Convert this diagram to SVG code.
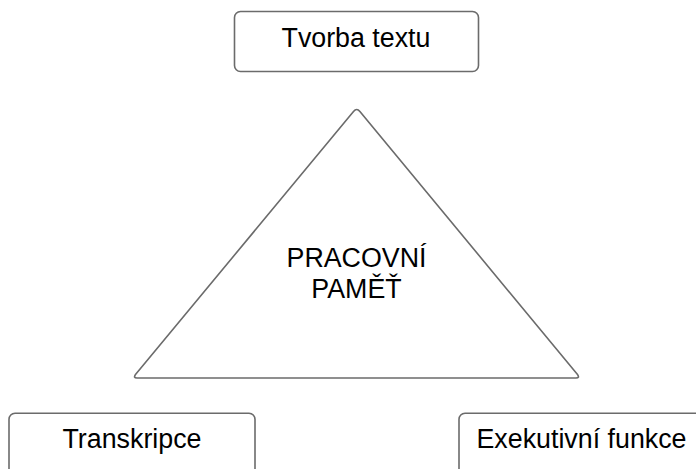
<svg xmlns="http://www.w3.org/2000/svg" width="696" height="469" viewBox="0 0 696 469">
  <style>
    .box { fill: #ffffff; stroke: #6b6b6b; stroke-width: 1.6; }
    .tri { fill: #ffffff; stroke: #6b6b6b; stroke-width: 1.6; stroke-linejoin: round; }
    .lbl { font-family: "Liberation Sans", Arial, sans-serif; font-size: 26.8px; fill: #000000; text-anchor: middle; }
  </style>
  <rect width="696" height="469" fill="#ffffff"/>
  <g id="connectors"></g>
  <g id="tvorba-textu">
    <rect class="box" x="234.5" y="11.5" width="244" height="60" rx="6"/>
    <text class="lbl" x="356" y="46.7">Tvorba textu</text>
  </g>
  <g id="pracovni-pamet">
    <path class="tri" d="M353.5 111.5 Q356.7 107.5 359.9 111.5 L577.5 374.5 Q580 378 576 378 L137 378 Q133 378 135.5 374.5 Z"/>
    <text class="lbl" x="356.5" y="266.7">PRACOVNÍ</text>
    <text class="lbl" x="356.5" y="298">PAMĚŤ</text>
  </g>
  <g id="transkripce">
    <rect class="box" x="9" y="413.3" width="246" height="80" rx="6"/>
    <text class="lbl" x="132" y="448.3">Transkripce</text>
  </g>
  <g id="exekutivni-funkce">
    <rect class="box" x="459" y="413.3" width="246" height="80" rx="6"/>
    <text class="lbl" x="581.5" y="448.3">Exekutivní funkce</text>
  </g>
</svg>
